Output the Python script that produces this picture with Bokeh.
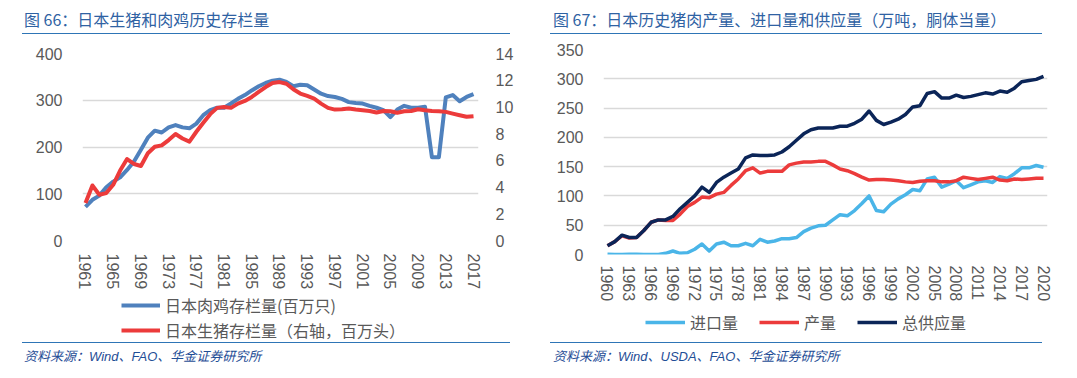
from bokeh.plotting import figure
from bokeh.models import Range1d, LinearAxis, FixedTicker, Legend, LegendItem, Div
from bokeh.layouts import row, column
from bokeh.embed import file_html
from bokeh.resources import INLINE

# ---------------- data: left chart ----------------
years_left = list(range(1961, 2018))
chicken = [72, 87, 96, 114, 126, 135, 151, 169, 194, 220,
           235, 231, 242, 247, 242, 240, 250, 268, 279, 284,
           284, 293, 303, 311, 321, 330, 337, 342, 344, 339,
           330, 333, 332, 323, 314, 309, 307, 303, 296, 294,
           293, 288, 284, 279, 264, 280, 288, 284, 284, 286,
           178, 178, 306, 311, 298, 307, 313]
pig = [2.8, 4.12, 3.43, 3.55, 4.17, 5.24, 6.1, 5.73, 5.58, 6.53,
       7.02, 7.12, 7.52, 7.97, 7.64, 7.4, 8.14, 8.81, 9.46, 9.93,
       10.0, 9.93, 10.25, 10.45, 10.75, 11.12, 11.49, 11.79, 11.86, 11.74,
       11.32, 11.0, 10.82, 10.62, 10.25, 9.93, 9.8, 9.83, 9.88, 9.8,
       9.75, 9.7, 9.58, 9.7, 9.68, 9.56, 9.68, 9.7, 9.83, 9.75,
       9.7, 9.68, 9.63, 9.5, 9.38, 9.26, 9.31]
left_xticks = list(range(1961, 2018, 4))
left_yticks = [0, 100, 200, 300, 400]
left_y2ticks = [0, 2, 4, 6, 8, 10, 12, 14]
left_title = "图 66：日本生猪和肉鸡历史存栏量"
left_names = ["日本肉鸡存栏量(百万只)", "日本生猪存栏量（右轴，百万头）"]
left_source = "资料来源：Wind、FAO、华金证券研究所"

# ---------------- data: right chart ----------------
years_right = list(range(1960, 2021))
total = [15, 22, 33, 29, 29, 41, 55, 59, 59, 65,
         78, 89, 100, 115, 106, 123, 132, 139, 146, 165,
         170, 169, 169, 170, 175, 184, 195, 206, 213, 216,
         216, 216, 219, 219, 224, 231, 245, 229, 222, 226,
         231, 239, 252, 254, 275, 278, 267, 267, 272, 268,
         270, 273, 276, 274, 279, 277, 284, 295, 297, 299,
         304]
production = [15, 22, 32, 28, 29, 41, 55, 59, 58, 58,
              69, 82, 89, 98, 97, 103, 106, 118, 129, 143,
              148, 139, 142, 142, 142, 153, 156, 158, 158, 159,
              159, 153, 146, 143, 138, 132, 127, 128, 128, 127,
              126, 124, 123, 125, 126, 126, 124, 124, 126, 132,
              130, 128, 130, 132, 127, 126, 129, 128, 129, 130,
              130]
imports = [0.5, 0, 0, 0.5, 0.5, 0, 0, 0, 2, 6,
           2, 3, 9, 18, 6, 18, 21, 15, 15, 19,
           15, 26, 21, 23, 27, 27, 29, 39, 45, 49,
           50, 59, 68, 66, 75, 87, 100, 75, 73, 86,
           95, 102, 111, 109, 129, 132, 115, 120, 126, 114,
           119, 124, 126, 123, 133, 130, 138, 148, 148, 152,
           149]
right_xticks = list(range(1960, 2021, 3))
right_yticks = [0, 50, 100, 150, 200, 250, 300, 350]
right_title = "图 67：日本历史猪肉产量、进口量和供应量（万吨，胴体当量）"
right_names = ["进口量", "产量", "总供应量"]
right_source = "资料来源：Wind、USDA、FAO、华金证券研究所"

# ---------------- styles ----------------
CJK = "Noto Sans CJK SC"
NUM = "Liberation Sans"
TICK_COLOR = "#595959"
GRID_COLOR = "#d9d9d9"
TITLE_COLOR = "#2f62a3"
RULE_COLOR = "#2e75b6"
SOURCE_COLOR = "#1f4e96"
C_CHICKEN = "#4f81bd"
C_RED = "#ec3b3b"
C_IMPORT = "#4ab5e8"
C_TOTAL = "#0b2558"


def style_axis(ax, standoff, size="16px"):
    ax.axis_line_color = None
    ax.major_tick_line_color = None
    ax.minor_tick_line_color = None
    ax.major_tick_out = 0
    ax.major_tick_in = 0
    ax.minor_tick_out = 0
    ax.minor_tick_in = 0
    ax.major_label_standoff = standoff
    ax.major_label_text_font = NUM
    ax.major_label_text_font_size = size
    ax.major_label_text_color = TICK_COLOR


def title_div(text, width, indent, rule_w, pad):
    html = (f'<div style="box-sizing:border-box;margin:0 0 0 {indent}px;width:{rule_w}px;'
            f'height:34px;border-bottom:1.5px solid {RULE_COLOR};padding:8px 0 0 {pad}px;'
            f"font-family:'{CJK}';font-size:16px;line-height:22px;color:{TITLE_COLOR};"
            f'white-space:nowrap;">{text}</div>')
    return Div(text=html, width=width, height=34, margin=0)


def source_div(text, width, indent, rule_w, pad):
    html = (f'<div style="box-sizing:border-box;margin:0 0 0 {indent}px;width:{rule_w}px;'
            f'height:36px;border-top:1.5px solid {RULE_COLOR};padding:3.5px 0 0 {pad}px;'
            f"font-family:'Liberation Sans','{CJK}';font-style:italic;font-size:13px;"
            f'line-height:20px;color:{SOURCE_COLOR};white-space:nowrap;">{text}</div>')
    return Div(text=html, width=width, height=36, margin=0)


def make_legend(items, loc, orientation, spacing, glyph_w):
    return Legend(items=items, location=loc, orientation=orientation,
                  glyph_width=glyph_w, glyph_height=16, label_height=16,
                  label_standoff=5, padding=0, margin=0, spacing=spacing,
                  border_line_color=None, background_fill_alpha=0,
                  label_text_font=CJK, label_text_font_size="16px",
                  label_text_color=TICK_COLOR)


def legend_strip(width, height, colors, widths, names):
    # a strip holding only legends; its sample lines lie outside its ranges
    q = figure(width=width, height=height, output_backend="svg", toolbar_location=None,
               x_range=Range1d(0, 1), y_range=Range1d(0, 1),
               x_axis_location=None, y_axis_location=None,
               min_border_left=0, min_border_right=0, min_border_top=0, min_border_bottom=0)
    q.outline_line_color = None
    q.grid.grid_line_color = None
    items = []
    for c, w, n in zip(colors, widths, names):
        r = q.line(x=[-2, -1], y=[-2, -2], line_color=c, line_width=w)
        items.append(LegendItem(label=n, renderers=[r]))
    return q, items


# ---------------- left figure ----------------
# page: column x 0..540; figure y 34..292; frame x 82..478, y 53..241
p1 = figure(width=540, height=258, output_backend="svg", toolbar_location=None,
            x_range=Range1d(1960.57, 2017.72), y_range=Range1d(0, 400),
            min_border_left=82, min_border_right=62, min_border_top=19, min_border_bottom=51)
p1.extra_y_ranges = {"pig": Range1d(0, 14)}
p1.outline_line_color = None
p1.xgrid.grid_line_color = None
p1.ygrid.grid_line_color = GRID_COLOR
p1.ygrid.grid_line_width = 1.5
p1.xaxis.ticker = FixedTicker(ticks=left_xticks)
p1.xaxis.major_label_orientation = "vertical"
p1.yaxis.ticker = FixedTicker(ticks=left_yticks)
style_axis(p1.xaxis[0], 13)
style_axis(p1.yaxis[0], 20)
ax2 = LinearAxis(y_range_name="pig", ticker=FixedTicker(ticks=left_y2ticks))
style_axis(ax2, 17)
p1.add_layout(ax2, "right")

p1.line(years_left, chicken, line_color=C_CHICKEN, line_width=4, line_join="round")
p1.line(years_left, pig, y_range_name="pig", line_color=C_RED, line_width=4, line_join="round")

# legend strip y 292..342; its frame is aligned with p1's frame (left edge x 82)
leg_left, items_left = legend_strip(540, 50, [C_CHICKEN, C_RED], [4, 4], left_names)
leg_left.add_layout(make_legend([items_left[0]], (39, 25), "vertical", 0, 39), "center")
leg_left.add_layout(make_legend([items_left[1]], (39, 0), "vertical", 0, 39), "center")

# ---------------- right figure ----------------
# page: column x 540..1077; figure y 34..305; frame x 603..1047, y 49..254
p2 = figure(width=537, height=271, output_backend="svg", toolbar_location=None,
            x_range=Range1d(1959.45, 2020.55), y_range=Range1d(0, 350),
            min_border_left=63, min_border_right=30, min_border_top=15, min_border_bottom=51)
p2.outline_line_color = None
p2.xgrid.grid_line_color = None
p2.ygrid.grid_line_color = GRID_COLOR
p2.ygrid.grid_line_width = 1.5
p2.xaxis.ticker = FixedTicker(ticks=right_xticks)
p2.xaxis.major_label_orientation = "vertical"
p2.yaxis.ticker = FixedTicker(ticks=right_yticks)
style_axis(p2.xaxis[0], 11)
style_axis(p2.yaxis[0], 20)

p2.line(years_right, imports, line_color=C_IMPORT, line_width=3.5, line_join="round")
p2.line(years_right, production, line_color=C_RED, line_width=3.5, line_join="round")
p2.line(years_right, total, line_color=C_TOTAL, line_width=3.5, line_join="round")

# legend strip y 305..342; frame left edge aligned at x 603
leg_right, items_right = legend_strip(537, 37, [C_IMPORT, C_RED, C_TOTAL], [3.5, 3.5, 3.5],
                                      right_names)
leg_right.add_layout(make_legend(items_right, (42, 8), "horizontal", 21, 40), "center")

left_col = column(title_div(left_title, 540, 22, 488, 2), p1, leg_left,
                  source_div(left_source, 540, 22, 488, 2), spacing=0)
right_col = column(title_div(right_title, 537, 10, 492, 3), p2, leg_right,
                   source_div(right_source, 537, 10, 492, 3), spacing=0)
layout = row(left_col, right_col, spacing=0)
open("out.html", "w").write(file_html(layout, INLINE))
